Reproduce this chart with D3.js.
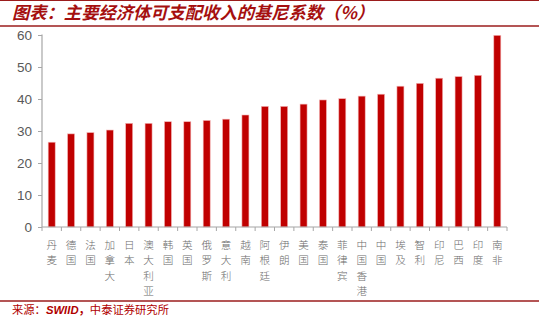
<!DOCTYPE html>
<html>
<head>
<meta charset="utf-8">
<script src="https://cdn.jsdelivr.net/npm/d3@7"></script>
<style>
  html, body { margin: 0; padding: 0; background: #fff; }
  svg { display: block; }
</style>
</head>
<body>
<svg id="chart" width="539" height="325"></svg>
<script>
// Gini coefficient of disposable income by economy (%)
const countries = ["丹麦", "德国", "法国", "加拿大", "日本", "澳大利亚", "韩国", "英国", "俄罗斯", "意大利", "越南", "阿根廷", "伊朗", "美国", "泰国", "菲律宾", "中国香港", "中国", "埃及", "智利", "印尼", "巴西", "印度", "南非"];
const giniValues = [26.5, 29.1, 29.5, 30.3, 32.4, 32.4, 32.9, 32.9, 33.3, 33.7, 35.0, 37.7, 37.7, 38.4, 39.7, 40.1, 40.9, 41.5, 44.0, 44.9, 46.5, 47.0, 47.4, 59.9];
const yTicks = [0, 10, 20, 30, 40, 50, 60];

const titleText = "图表：主要经济体可支配收入的基尼系数（%）";
const sourceLabel = "来源：";
const sourceName = "SWIID";
const sourceRest = "中泰证券研究所";

const svg = d3.select("#chart");
const red = "#c00000";
const ruleColor = "#9b1c1c";
const axisColor = "#a6a6a6";
const textGray = "#6b6b6b";

const plot = { left: 42, right: 507, top: 35, bottom: 227 };

const x = d3.scaleBand()
  .domain(countries)
  .range([plot.left, plot.right])
  .paddingInner(0)
  .paddingOuter(0);

const y = d3.scaleLinear()
  .domain([0, 60])
  .range([plot.bottom, plot.top]);

// Header and footer rules
svg.append("line")
  .attr("x1", 0).attr("x2", 539).attr("y1", 0.5).attr("y2", 0.5)
  .attr("stroke", ruleColor).attr("stroke-width", 1);
svg.append("line")
  .attr("x1", 0).attr("x2", 539).attr("y1", 26).attr("y2", 26)
  .attr("stroke", ruleColor).attr("stroke-width", 1.5);
svg.append("line")
  .attr("x1", 0).attr("x2", 539).attr("y1", 301).attr("y2", 301)
  .attr("stroke", ruleColor).attr("stroke-width", 1.5);

// Title
svg.append("text")
  .attr("x", 12).attr("y", 19)
  .attr("font-family", "'Noto Sans CJK SC', sans-serif")
  .attr("font-size", 17.3)
  .attr("font-weight", "bold")
  .attr("font-style", "italic")
  .attr("fill", "#a50f0f")
  .text(titleText);

// Source line
const src = svg.append("text")
  .attr("x", 12).attr("y", 314)
  .attr("font-family", "'Noto Sans CJK SC', sans-serif")
  .attr("font-size", 11.3)
  .attr("fill", "#b00000");
src.append("tspan").text(sourceLabel);
src.append("tspan").attr("font-weight", "bold").attr("font-style", "italic")
  .attr("font-family", "'Liberation Sans', Arial, sans-serif").text(sourceName);
src.append("tspan").attr("font-weight", "bold").text("，");
src.append("tspan").text(sourceRest);

// Bars
const barWidth = 7;
svg.append("g")
  .selectAll("rect")
  .data(giniValues)
  .join("rect")
  .attr("x", (d, i) => x(countries[i]) + x.bandwidth() / 2 - barWidth / 2)
  .attr("y", d => y(d))
  .attr("width", barWidth)
  .attr("height", d => y(0) - y(d))
  .attr("fill", red)
  .attr("stroke", "#f4b6b6")
  .attr("stroke-width", 0.6);

// Y axis
const yAxis = d3.axisLeft(y)
  .tickValues(yTicks)
  .tickSize(4)
  .tickPadding(6)
  .tickFormat(d3.format("d"));
const gy = svg.append("g")
  .attr("transform", `translate(${plot.left},0)`)
  .call(yAxis);
gy.select(".domain").attr("stroke", axisColor).attr("stroke-width", 1.2)
  .attr("d", `M0,${plot.top - 0.5}V${plot.bottom}`);
gy.selectAll(".tick line").attr("stroke", axisColor);
gy.selectAll(".tick text")
  .attr("font-family", "'Liberation Sans', Arial, sans-serif")
  .attr("font-size", 13.5)
  .attr("fill", "#595959");

// X axis: ticks at category boundaries
const gx = svg.append("g")
  .attr("transform", `translate(0,${plot.bottom})`);
gx.append("line")
  .attr("x1", plot.left).attr("x2", plot.right)
  .attr("y1", 0).attr("y2", 0)
  .attr("stroke", axisColor).attr("stroke-width", 1.2);
const boundaries = countries.map(c => x(c)).concat([plot.right]);
gx.selectAll("line.tick")
  .data(boundaries)
  .join("line")
  .attr("class", "tick")
  .attr("x1", d => d).attr("x2", d => d)
  .attr("y1", 0).attr("y2", 4)
  .attr("stroke", axisColor);

// Vertical category labels, one glyph per row
const glyphs = countries.flatMap(c =>
  Array.from(c).map((ch, k) => ({ c, ch, k })));
svg.append("g")
  .selectAll("text")
  .data(glyphs)
  .join("text")
  .attr("x", d => x(d.c) + x.bandwidth() / 2)
  .attr("y", d => 249 + d.k * 15.4)
  .attr("font-family", "'Noto Sans CJK SC', sans-serif")
  .attr("font-size", 10.6)
  .attr("font-weight", 300)
  .attr("fill", textGray)
  .attr("text-anchor", "middle")
  .text(d => d.ch);
</script>
</body>
</html>
